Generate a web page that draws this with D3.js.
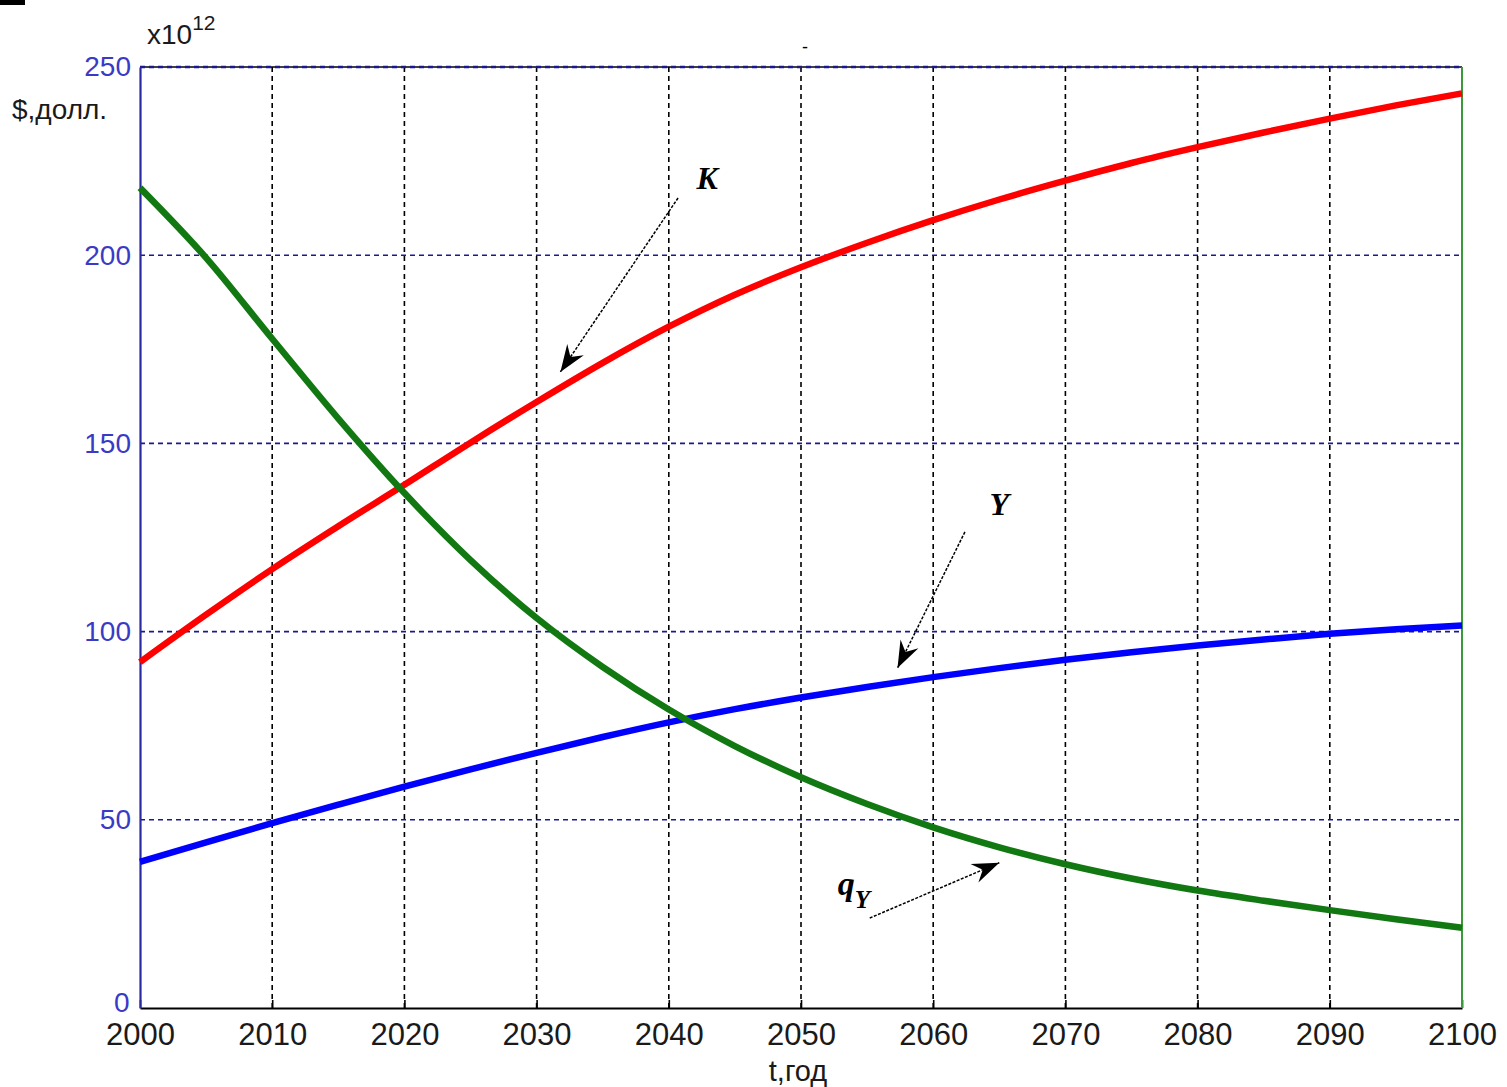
<!DOCTYPE html>
<html>
<head>
<meta charset="utf-8">
<script src="https://cdn.jsdelivr.net/npm/d3@7"></script>
<style>
  html, body { margin: 0; padding: 0; background: #fff; }
  svg { display: block; }
</style>
</head>
<body>
<svg id="chart" width="1507" height="1087"></svg>
<script>
// Years sampled every 5 years
const years = [2000, 2005, 2010, 2015, 2020, 2025, 2030, 2035, 2040, 2045, 2050,
               2055, 2060, 2065, 2070, 2075, 2080, 2085, 2090, 2095, 2100];

// Capital K, x10^12 $
const valuesK = [91.9, 104.5, 116.6, 128.0, 139.0, 150.2, 161.0, 171.4, 181.0, 189.5, 196.8,
                 203.3, 209.3, 214.8, 219.8, 224.5, 228.7, 232.6, 236.3, 239.8, 243.0];
// Output Y, x10^12 $
const valuesY = [38.8, 44.0, 49.1, 54.0, 58.8, 63.4, 67.8, 72.0, 75.9, 79.4, 82.5,
                 85.3, 87.9, 90.3, 92.5, 94.5, 96.3, 97.9, 99.4, 100.6, 101.6];
// q_Y, x10^12 $
const valuesQ = [217.9, 199.3, 177.8, 156.6, 136.8, 119.0, 103.6, 90.6, 79.3, 69.6, 61.3,
                 54.2, 48.0, 42.7, 38.2, 34.4, 31.2, 28.5, 26.0, 23.6, 21.3];

const xTicks = [2000, 2010, 2020, 2030, 2040, 2050, 2060, 2070, 2080, 2090, 2100];
const yTicks = [0, 50, 100, 150, 200, 250];

// Curve annotations: label anchor and arrow tail/head, in data units
const annotations = [
  { name: "K",  label: [2042.9, 217.5], tail: [2040.7, 215.2], head: [2031.8, 169.0] },
  { name: "Y",  label: [2065.0, 131.0], tail: [2062.4, 126.5], head: [2057.3, 90.3] },
  { name: "q",  label: [2054.0, 30.0],  tail: [2055.2, 23.9],  head: [2065.0, 38.6] }
];

const svg = d3.select("#chart");
const margin = { left: 140, right: 1462, top: 67, bottom: 1008 };

const x = d3.scaleLinear().domain([2000, 2100]).range([margin.left, margin.right]);
const y = d3.scaleLinear().domain([0, 250]).range([margin.bottom, margin.top]);

// small black mark at top-left corner
svg.append("rect").attr("x", 0).attr("y", 0).attr("width", 25).attr("height", 5).attr("fill", "#000");

// vertical grid (black dashed)
svg.append("g").selectAll("line")
  .data(xTicks.filter(d => d > 2000 && d < 2100))
  .join("line")
  .attr("x1", d => x(d)).attr("x2", d => x(d))
  .attr("y1", y(0)).attr("y2", y(250))
  .attr("stroke", "#000").attr("stroke-width", 1.6)
  .attr("stroke-dasharray", "5,4");

// top border
svg.append("line")
  .attr("x1", x(2000)).attr("x2", x(2100)).attr("y1", y(250)).attr("y2", y(250))
  .attr("stroke", "#000").attr("stroke-width", 1.5);

// horizontal grid (blue dashed)
svg.append("g").selectAll("line")
  .data(yTicks.filter(d => d > 0))
  .join("line")
  .attr("x1", x(2000)).attr("x2", x(2100))
  .attr("y1", d => y(d)).attr("y2", d => y(d))
  .attr("stroke", "#1a1a8a").attr("stroke-width", d => d === 250 ? 2.4 : 1.6)
  .attr("stroke-dasharray", "5,4");

// bottom axis
const xAxis = d3.axisBottom(x).tickValues(xTicks).tickSize(-8).tickSizeOuter(0).tickPadding(18)
  .tickFormat(d3.format("d"));
const gx = svg.append("g").attr("transform", `translate(0,${y(0)})`).call(xAxis);
gx.select(".domain").attr("stroke", "#000").attr("stroke-width", 2);
gx.selectAll(".tick line").attr("stroke", "#000").attr("stroke-width", 1.6);
gx.selectAll("text").attr("fill", "#1a1a1a")
  .style("font-family", "'Liberation Sans', Arial, sans-serif").style("font-size", "31px")
  .attr("dy", "0.62em");

// left axis
const yAxis = d3.axisLeft(y).tickValues(yTicks).tickSize(0).tickPadding(9);
const gy = svg.append("g").attr("transform", `translate(${x(2000)},0)`).call(yAxis);
gy.select(".domain").attr("stroke", "#2a2aa0").attr("stroke-width", 2.2);
gy.selectAll("text").attr("fill", "#3a3ac6")
  .style("font-family", "'Liberation Sans', Arial, sans-serif").style("font-size", "28px");
gy.selectAll(".tick").filter(d => d === 0).select("text").attr("dx", "-0.05em").attr("dy", "0.12em");

// right border (green)
svg.append("line")
  .attr("x1", x(2100)).attr("x2", x(2100)).attr("y1", y(250)).attr("y2", y(0))
  .attr("stroke", "#3a9a3a").attr("stroke-width", 2);

// series
const line = d3.line().x(d => x(d[0])).y(d => y(d[1])).curve(d3.curveMonotoneX);
const series = [
  { vals: valuesK, color: "#ff0000" },
  { vals: valuesY, color: "#0000ff" },
  { vals: valuesQ, color: "#127812" }
];
svg.append("g").selectAll("path")
  .data(series)
  .join("path")
  .attr("d", s => line(years.map((yr, i) => [yr, s.vals[i]])))
  .attr("fill", "none")
  .attr("stroke", s => s.color)
  .attr("stroke-width", 6.5)
  .attr("stroke-linejoin", "round");

// arrowhead marker
svg.append("defs").append("marker")
  .attr("id", "arrowhead")
  .attr("viewBox", "-28 -12 30 24")
  .attr("refX", 0).attr("refY", 0)
  .attr("markerWidth", 30).attr("markerHeight", 24)
  .attr("markerUnits", "userSpaceOnUse")
  .attr("orient", "auto")
  .append("path")
  .attr("d", "M0,0 L-27,-10 L-18,0 L-27,10 Z")
  .attr("fill", "#000");

const ann = svg.append("g");
ann.selectAll("line")
  .data(annotations)
  .join("line")
  .attr("x1", d => x(d.tail[0])).attr("y1", d => y(d.tail[1]))
  .attr("x2", d => x(d.head[0])).attr("y2", d => y(d.head[1]))
  .attr("stroke", "#000").attr("stroke-width", 1.5)
  .attr("stroke-dasharray", "3,1.5")
  .attr("marker-end", "url(#arrowhead)");

const serif = "'Liberation Serif', 'Times New Roman', serif";
annotations.forEach(a => {
  const t = ann.append("text")
    .attr("x", x(a.label[0])).attr("y", y(a.label[1]))
    .attr("text-anchor", "middle")
    .style("font-family", serif).style("font-weight", "bold").style("font-style", "italic")
    .style("font-size", "32px").attr("fill", "#000");
  if (a.name === "q") {
    t.append("tspan").style("font-size", "34px").text("q");
    t.append("tspan").attr("dy", 13).style("font-size", "25px").text("Y");
  } else {
    t.text(a.name);
  }
});

// axis captions
const sans = "'Liberation Sans', Arial, sans-serif";
const mult = svg.append("text").attr("x", 147).attr("y", 44)
  .style("font-family", sans).style("font-size", "28px").attr("fill", "#1a1a1a");
mult.append("tspan").text("x10");
mult.append("tspan").attr("dy", -14).style("font-size", "21px").text("12");

svg.append("text").attr("x", 12).attr("y", 119)
  .style("font-family", sans).style("font-size", "28px").attr("fill", "#1a1a1a")
  .text("$,долл.");

svg.append("text").attr("x", x(2050) - 3).attr("y", 1081).attr("text-anchor", "middle")
  .style("font-family", sans).style("font-size", "29px").attr("fill", "#1a1a1a")
  .text("t,год");

// plot title
svg.append("text").attr("x", x(2050) + 4).attr("y", 53).attr("text-anchor", "middle")
  .style("font-family", sans).style("font-size", "18px").attr("fill", "#000")
  .text("-");
</script>
</body>
</html>
